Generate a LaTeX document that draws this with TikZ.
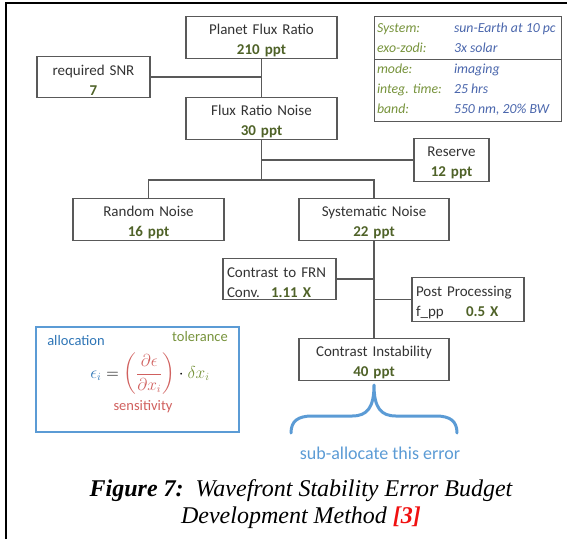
\documentclass[tikz,border=0pt]{standalone}
\usepackage{amsmath}
\usepackage{fontspec}
\setmainfont{Carlito}
\newfontfamily\capfont{Liberation Serif}
\usepackage{tikz}

\definecolor{boxline}{HTML}{595959}
\definecolor{boxtext}{HTML}{333333}
\definecolor{valgreen}{HTML}{4F6228}
\definecolor{lblgreen}{HTML}{77933C}
\definecolor{valblue}{HTML}{4A66AC}
\definecolor{allocblue}{HTML}{5B9BD5}
\definecolor{epsblue}{HTML}{2E75B6}
\definecolor{sensred}{HTML}{D0605E}
\definecolor{capred}{HTML}{F01010}

\newcommand{\ppt}[1]{\textbf{\textcolor{valgreen}{#1}}}
\newcommand{\infolbl}[1]{\textcolor{lblgreen}{#1}}
\newcommand{\infoval}[1]{\textcolor{valblue}{#1}}

\tikzset{
  budget/.style={draw=boxline, line width=1.2pt, text=boxtext, align=center,
    font=\fontsize{15}{20}\selectfont, text width=147pt, minimum height=41pt,
    inner xsep=2pt, inner ysep=2pt, execute at begin node=\rule{0pt}{16pt}},
  budgetleft/.style={draw=boxline, line width=1.2pt, text=boxtext, align=left,
    font=\fontsize{15}{20}\selectfont, minimum height=41pt, inner xsep=4pt, inner ysep=2pt,
    execute at begin node=\rule{0pt}{17pt}},
  link/.style={draw=boxline, line width=1.2pt},
  note/.style={font=\fontsize{14.5}{17}\selectfont},
}

\begin{document}
\begin{tikzpicture}[x=1pt, y=-1pt]
\useasboundingbox (0,0) rectangle (567,539);
\draw[line width=2.5pt] (6,539) -- (6,3) -- (567,3);

% budget tree
\node (pfr) at (261.5, 37.5) [budget] {Planet Flux Ratio\\\ppt{210 ppt}};
\node (snr) at (93.5, 77) [budget, text width=109pt] {required SNR\\\ppt{7}};
\node (fnr) at (261.5, 118.5) [budget] {Flux Ratio Noise\\\ppt{30 ppt}};
\node (reserve) at (451.5, 160) [budget, text width=71pt, minimum height=40pt] {Reserve\\\ppt{12 ppt}};
\node (rnoise) at (148.5, 219.5) [budget] {Random Noise\\\ppt{16 ppt}};
\node (snoise) at (374, 219.5) [budget, text width=146pt] {Systematic Noise\\\ppt{22 ppt}};
\node (cfrn) at (279.5, 279) [budgetleft, text width=105pt, minimum height=40pt] {Contrast to FRN\\\makebox[44pt][l]{Conv.}\ppt{1.11 X}};
\node (pproc) at (468, 299.5) [budgetleft, text width=104pt] {Post Processing\\\makebox[50pt][l]{f\_pp}\ppt{0.5 X}};
\node (cinst) at (374, 359.5) [budget, text width=146pt] {Contrast Instability\\\ppt{40 ppt}};
\coordinate (split) at (261.5, 180);

\draw[link] (pfr) -- (fnr);
\draw[link] (snr) -- (snr -| pfr);
\draw[link] (fnr) -- (split);
\draw[link] (reserve) -- (reserve -| fnr);
\draw[link] (rnoise) |- (split) -| (snoise);
\draw[link] (snoise) -- (cinst);
\draw[link] (cfrn) -- (cfrn -| snoise);
\draw[link] (pproc) -- (pproc -| snoise);

% observation parameters
\node (info) at (467.5, 69) [draw=boxline, line width=1pt, text=boxline, inner xsep=0pt, inner ysep=2pt,
  font=\fontsize{13.8}{20}\selectfont\itshape] {\setlength{\arrayrulewidth}{0.8pt}%
  \begin{tabular}{@{\hspace{3pt}}p{77pt}@{}p{104pt}@{\hspace{3pt}}}
  \infolbl{System:} & \infoval{sun-Earth at 10 pc}\\
  \infolbl{exo-zodi:} & \infoval{3x solar}\\\hline
  \infolbl{mode:} & \infoval{imaging}\\
  \infolbl{integ. time:} & \infoval{25 hrs}\\
  \infolbl{band:} & \infoval{550 nm, 20\% BW}
  \end{tabular}};

% allocation formula
\node (allocbox) at (137.5, 379.5) [draw=allocblue, line width=2.5pt, minimum width=203pt, minimum height=105pt] {};
\node (alloc) at (76, 341) [note, text=epsblue] {allocation};
\node (toler) at (200, 337) [note, text=lblgreen, inner sep=1pt] {tolerance};
\node (sens) at (143, 407) [note, text=sensred] {sensitivity};
\node (eqn) at (150, 374) [font=\fontsize{16}{19}\selectfont, inner sep=0pt] {$\textcolor{epsblue}{\epsilon_i} = {\color{sensred}\left(\dfrac{\partial\epsilon}{\partial x_i}\right)}\cdot\textcolor{lblgreen}{\delta x_i}$};

% brace under contrast instability
\draw[allocblue, line width=3pt, line cap=round, line join=round]
  (291,433) .. controls (291,421) and (298,416) .. (312,416) -- (352,416)
  .. controls (367,416) and (374,408) .. (374,385)
  .. controls (374,408) and (381,416) .. (396,416) -- (436,416)
  .. controls (450,416) and (457,421) .. (457,433);
\node (suballoc) at (380, 453) [font=\fontsize{18}{20}\selectfont, text=allocblue] {sub-allocate this error};

% caption
\node (caption) at (301, 504) [font=\capfont\itshape\fontsize{24}{27}\selectfont, align=center]
  {\textbf{Figure 7:}\ \ Wavefront Stability Error Budget\\Development Method \textcolor{capred}{\textbf{[3]}}};
\end{tikzpicture}
\end{document}
